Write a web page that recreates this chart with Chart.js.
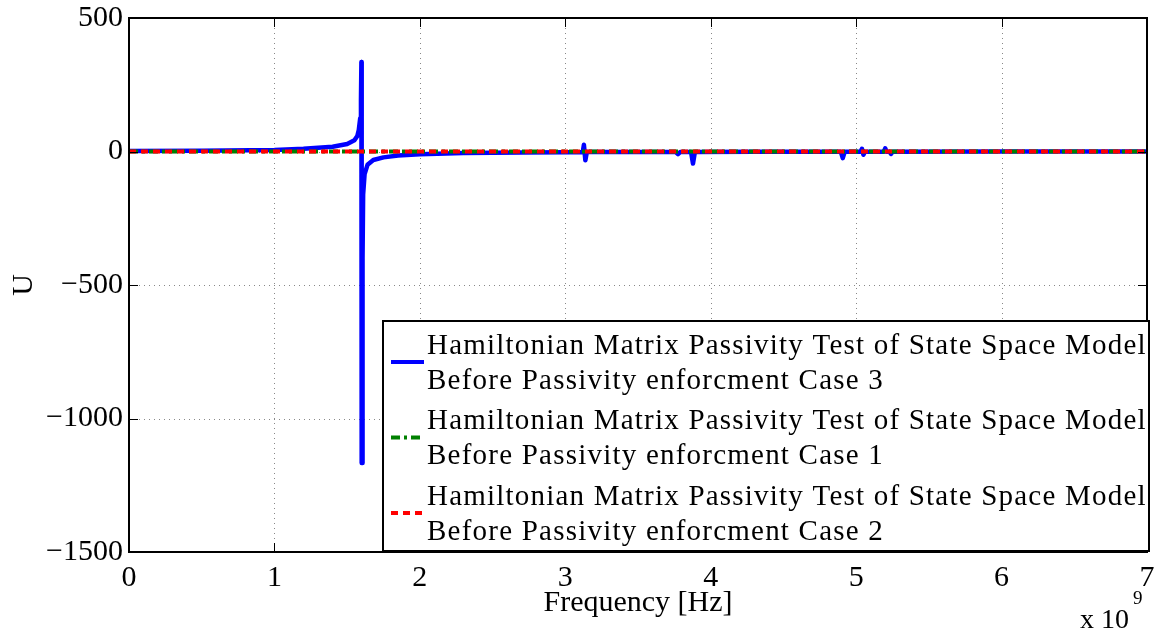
<!DOCTYPE html>
<html>
<head>
<meta charset="utf-8">
<script src="https://cdn.jsdelivr.net/npm/chart.js@4.4.0/dist/chart.umd.min.js"></script>
<style>
  html, body { margin: 0; padding: 0; background: #fff; }
  #wrap { width: 1163px; height: 634px; position: relative; }
</style>
</head>
<body>
<div id="wrap"><canvas id="grafico"></canvas></div>
<script>
// frequency in units of 1e9 Hz
const freqCase3 = [0, 0.5, 1.0, 1.2, 1.4, 1.5, 1.55, 1.57, 1.58, 1.59, 1.595, 1.598, 1.6, 1.603,
  1.606, 1.61, 1.62, 1.64, 1.68, 1.75, 1.85, 2.0, 2.3, 2.7, 3.0, 3.12, 3.128, 3.138, 3.148, 3.4,
  3.76, 3.775, 3.79, 3.865, 3.878, 3.891, 4.3, 4.895, 4.908, 4.921, 5.03, 5.04, 5.05, 5.06, 5.19,
  5.2, 5.21, 5.23, 5.24, 5.25, 6.0, 7.0];
const uCase3 = [2, 3, 6, 10, 18, 28, 42, 58, 80, 125, 195, 335, -1167, -1167,
  -400, -160, -85, -50, -32, -22, -15, -10, -6, -4, -3, -3, 25, -33, -2, -2,
  -2, -10, -2, -2, -45, -2, -1, -1, -25, -1, -1, 10, -12, -1, -1,
  12, -1, -1, -9, -1, 0, 0];

const freqCase1 = [0, 7];
const uCase1 = [0, 0];
const freqCase2 = [0, 7];
const uCase2 = [0, 0];

const xTicks = [0, 1, 2, 3, 4, 5, 6, 7];
const yTicks = [-1500, -1000, -500, 0, 500];

const legendLines = [
  ['Hamiltonian Matrix Passivity Test of State Space Model', 'Before Passivity enforcment Case 3'],
  ['Hamiltonian Matrix Passivity Test of State Space Model', 'Before Passivity enforcment Case 1'],
  ['Hamiltonian Matrix Passivity Test of State Space Model', 'Before Passivity enforcment Case 2']
];

const FONT = '"Liberation Serif", "Times New Roman", serif';

function pontos(xs, ys) {
  return xs.map(function(x, i) { return { x: x, y: ys[i] }; });
}

// texto com espacamento ajustado para a largura medida na referencia
function textoLargo(ctx, txt, x, y, escala) {
  ctx.letterSpacing = '0px';
  const w = ctx.measureText(txt).width;
  ctx.letterSpacing = ((w * escala - w) / txt.length).toFixed(2) + 'px';
  ctx.fillText(txt, x, y);
  ctx.letterSpacing = '0px';
}

// grade pontilhada, caixa e marcas internas estilo MATLAB
const moldura = {
  id: 'moldura',
  beforeDatasetsDraw: function(chart) {
    const ctx = chart.ctx, a = chart.chartArea;
    const sx = chart.scales.x, sy = chart.scales.y;
    ctx.save();
    ctx.strokeStyle = '#888';
    ctx.lineWidth = 1;
    ctx.setLineDash([1, 4]);
    xTicks.forEach(function(v) {
      const px = Math.round(sx.getPixelForValue(v)) + 0.5;
      if (px <= a.left + 1 || px >= a.right - 1) return;
      ctx.beginPath(); ctx.moveTo(px, a.top); ctx.lineTo(px, a.bottom); ctx.stroke();
    });
    yTicks.forEach(function(v) {
      const py = Math.round(sy.getPixelForValue(v)) + 0.5;
      if (py <= a.top + 1 || py >= a.bottom - 1) return;
      ctx.beginPath(); ctx.moveTo(a.left, py); ctx.lineTo(a.right, py); ctx.stroke();
    });
    ctx.restore();
  },
  afterDatasetsDraw: function(chart) {
    const ctx = chart.ctx, a = chart.chartArea;
    const sx = chart.scales.x, sy = chart.scales.y;
    ctx.save();
    ctx.strokeStyle = '#000';
    ctx.lineWidth = 2;
    ctx.setLineDash([]);
    ctx.strokeRect(a.left, a.top, a.right - a.left, a.bottom - a.top);
    ctx.lineWidth = 1;
    xTicks.forEach(function(v) {
      const px = Math.round(sx.getPixelForValue(v)) + 0.5;
      ctx.beginPath(); ctx.moveTo(px, a.bottom); ctx.lineTo(px, a.bottom - 9); ctx.stroke();
      ctx.beginPath(); ctx.moveTo(px, a.top); ctx.lineTo(px, a.top + 9); ctx.stroke();
    });
    yTicks.forEach(function(v) {
      const py = Math.round(sy.getPixelForValue(v)) + 0.5;
      ctx.beginPath(); ctx.moveTo(a.left, py); ctx.lineTo(a.left + 9, py); ctx.stroke();
      ctx.beginPath(); ctx.moveTo(a.right, py); ctx.lineTo(a.right - 9, py); ctx.stroke();
    });
    ctx.restore();
  },
  afterDraw: function(chart) {
    const ctx = chart.ctx, a = chart.chartArea;
    ctx.save();
    // legenda
    const bx = 383, by = 321, bw = a.right + 2 - 383, bh = a.bottom - 1 - 321;
    ctx.fillStyle = '#fff';
    ctx.fillRect(bx, by, bw, bh);
    ctx.strokeStyle = '#000';
    ctx.lineWidth = 2;
    ctx.strokeRect(bx, by, bw, bh);
    const estilos = [
      { cor: '#0000ff', dash: [] },
      { cor: '#008000', dash: [9, 4, 3, 4] },
      { cor: '#ff0000', dash: [7, 5] }
    ];
    ctx.font = '29px ' + FONT;
    ctx.fillStyle = '#000';
    ctx.textBaseline = 'middle';
    legendLines.forEach(function(linhas, i) {
      const cy = by + 41 + i * 75.5;
      ctx.strokeStyle = estilos[i].cor;
      ctx.lineWidth = 4;
      ctx.setLineDash(estilos[i].dash);
      ctx.beginPath(); ctx.moveTo(391, cy); ctx.lineTo(424, cy); ctx.stroke();
      textoLargo(ctx, linhas[0], 427, cy - 16, 1.1);
      textoLargo(ctx, linhas[1], 427, cy + 19, 1.1);
    });
    // expoente do eixo x
    ctx.font = '28px ' + FONT;
    ctx.textBaseline = 'alphabetic';
    ctx.textAlign = 'left';
    ctx.fillText('x 10', 1080, 628);
    ctx.font = '19px ' + FONT;
    ctx.fillText('9', 1133, 604);
    ctx.restore();
  }
};

document.addEventListener('DOMContentLoaded', function() {
  new Chart(document.getElementById('grafico'), {
    type: 'line',
    data: {
      datasets: [{
        label: 'Case 3',
        data: pontos(freqCase3, uCase3),
        borderColor: '#0000ff',
        borderWidth: 4.5,
        borderJoinStyle: 'round',
        borderCapStyle: 'round',
        pointRadius: 0,
        tension: 0,
        order: 3
      }, {
        label: 'Case 1',
        data: pontos(freqCase1, uCase1),
        borderColor: '#008000',
        borderWidth: 4,
        borderDash: [9, 4, 3, 4],
        pointRadius: 0,
        order: 2
      }, {
        label: 'Case 2',
        data: pontos(freqCase2, uCase2),
        borderColor: '#ff0000',
        borderWidth: 4,
        borderDash: [7, 5],
        pointRadius: 0,
        order: 1
      }]
    },
    options: {
      responsive: true,
      maintainAspectRatio: false,
      animation: false,
      layout: { padding: { left: 0, right: 16, top: 18, bottom: 0 } },
      plugins: { legend: { display: false }, tooltip: { enabled: false } },
      scales: {
        x: {
          type: 'linear',
          min: 0,
          max: 7,
          afterBuildTicks: function(scale) { scale.ticks = xTicks.map(function(v) { return { value: v }; }); },
          afterFit: function(scale) { scale.height = 82; scale.paddingLeft = 0; scale.paddingRight = 0; },
          grid: { display: false, drawTicks: false },
          border: { display: false },
          ticks: { color: '#000', font: { family: FONT, size: 30 }, padding: 8, maxRotation: 0 },
          title: { display: true, text: 'Frequency [Hz]', color: '#000', font: { family: FONT, size: 30 }, padding: { top: 0, bottom: 13 } }
        },
        y: {
          type: 'linear',
          min: -1500,
          max: 500,
          afterBuildTicks: function(scale) { scale.ticks = yTicks.map(function(v) { return { value: v }; }); },
          afterFit: function(scale) { scale.width = 129; scale.paddingTop = 0; scale.paddingBottom = 0; },
          grid: { display: false, drawTicks: false },
          border: { display: false },
          ticks: {
            color: '#000',
            font: { family: FONT, size: 30 },
            padding: 6,
            callback: function(v) { return String(v).replace('-', '\u2212'); }
          },
          title: { display: true, text: 'U', color: '#000', font: { family: FONT, size: 30 }, padding: { top: 6, bottom: 0 } }
        }
      }
    },
    plugins: [moldura]
  });
});
</script>
</body>
</html>
